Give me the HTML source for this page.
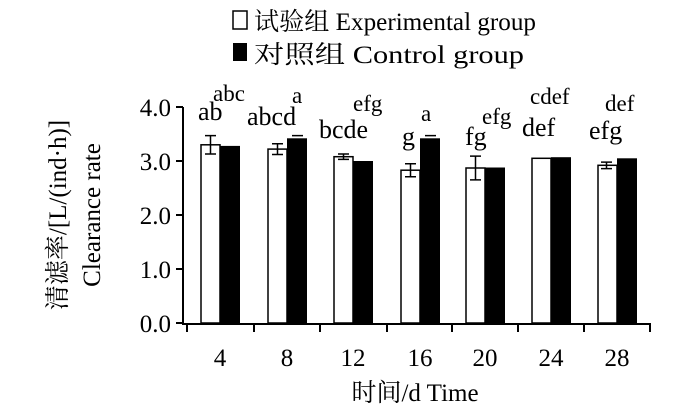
<!DOCTYPE html><html><head><style>body{margin:0;background:#fff}</style></head><body>
<svg width="700" height="415" xmlns="http://www.w3.org/2000/svg" font-family="'Liberation Serif','Noto Serif CJK SC',serif" fill="#000">
<rect width="700" height="415" fill="#fff"/>
<rect x="233" y="11" width="14" height="18" fill="#fff" stroke="#000" stroke-width="1.5"/>
<text x="254" y="30" font-size="25" textLength="282" lengthAdjust="spacingAndGlyphs">试验组 Experimental group</text>
<rect x="233" y="43" width="14" height="18"/>
<text x="254" y="63" font-size="25" textLength="270" lengthAdjust="spacingAndGlyphs">对照组 Control group</text>
<g stroke="#000" stroke-width="2" fill="none">
<path d="M183 107V324H651"/>
<path d="M176 107H183M176 161H183M176 215H183M176 269H183M176 323H183"/>
<path d="M187 323v9M254 323v9M320 323v9M387 323v9M452 323v9M518 323v9M584 323v9M650 323v9"/>
</g>
<g font-size="25" text-anchor="end">
<text x="171" y="116">4.0</text><text x="171" y="170">3.0</text><text x="171" y="224">2.0</text><text x="171" y="278">1.0</text><text x="171" y="332">0.0</text>
</g>
<g font-size="25" text-anchor="middle">
<text x="220" y="366">4</text><text x="287" y="366">8</text><text x="353" y="366">12</text><text x="420" y="366">16</text><text x="485" y="366">20</text><text x="551" y="366">24</text><text x="617" y="366">28</text>
<text x="415" y="401">时间/d Time</text>
</g>
<text transform="translate(66,215) rotate(-90)" font-size="25" text-anchor="middle">清滤率/[L/(ind·h)]</text>
<text transform="translate(100,215) rotate(-90)" font-size="25" text-anchor="middle">Clearance rate</text>
<g stroke="#000" stroke-width="1.5">
<rect x="201" y="144.8" width="19" height="178.2" fill="#fff"/>
<rect x="268" y="149.1" width="19" height="173.9" fill="#fff"/>
<rect x="334" y="156.7" width="19" height="166.3" fill="#fff"/>
<rect x="401" y="170.2" width="19" height="152.8" fill="#fff"/>
<rect x="466" y="168" width="19" height="155" fill="#fff"/>
<rect x="532" y="158.3" width="19" height="164.7" fill="#fff"/>
<rect x="598" y="165.3" width="19" height="157.7" fill="#fff"/>
</g>
<g>
<rect x="220" y="145.9" width="20" height="177.1"/>
<rect x="287" y="138.3" width="20" height="184.7"/>
<rect x="353" y="161" width="20" height="162"/>
<rect x="420" y="138.3" width="20" height="184.7"/>
<rect x="485" y="167.5" width="20" height="155.5"/>
<rect x="551" y="157.2" width="20" height="165.8"/>
<rect x="617" y="158.3" width="20" height="164.7"/>
</g>
<g stroke="#000" stroke-width="1.5" fill="none">
<path d="M210.5 135.6V154M205 135.6h11M205 154h11"/>
<path d="M277.5 143.7V154.5M272 143.7h11M272 154.5h11M292 135.6h11"/>
<path d="M343.5 154V159.4M338 154h11M338 159.4h11"/>
<path d="M410.5 163.7V176.7M405 163.7h11M405 176.7h11M425 135.6h11"/>
<path d="M475.5 156.1V179.9M470 156.1h11M470 179.9h11"/>
<path d="M606.5 162.1V168.6M601 162.1h11M601 168.6h11"/>
</g>
<g font-size="26">
<text x="198" y="120">ab</text><text x="247" y="125">abcd</text><text x="319" y="138">bcde</text><text x="402" y="145">g</text><text x="465" y="145">fg</text><text x="522" y="136">def</text><text x="589" y="139">efg</text>
</g>
<g font-size="23">
<text x="213" y="101">abc</text><text x="292" y="103">a</text><text x="353" y="111">efg</text><text x="421" y="121">a</text><text x="482" y="124">efg</text><text x="530" y="104">cdef</text><text x="605" y="111">def</text>
</g>
</svg>
</body></html>
